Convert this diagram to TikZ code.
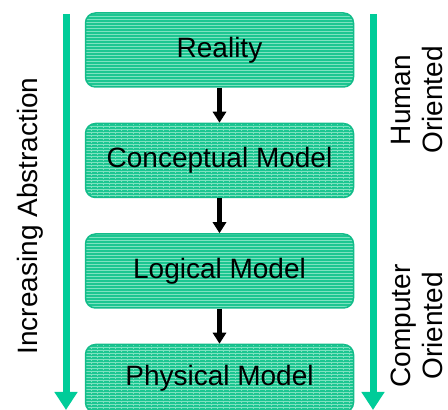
\documentclass[tikz,border=0pt]{standalone}
\usepackage{fontspec}
\setmainfont{Liberation Sans}
\usepackage{tikz}
\usetikzlibrary{positioning,arrows.meta}
\usepackage{xcolor}

\definecolor{sidegreen}{RGB}{0,204,153}
\definecolor{boxfill}{RGB}{28,198,145}
\definecolor{boxedge}{RGB}{20,188,138}
\definecolor{gridlight}{RGB}{125,226,192}

\tikzset{
  modelbox/.style={draw=boxedge,line width=1.5pt,fill=boxfill,rounded corners=10pt,
    minimum width=268pt,minimum height=74pt,font=\fontsize{28}{32}\selectfont,
    path picture={
      % fine hatching on the box face
      \foreach \k in {0,...,30}
        \draw[gridlight,line width=0.7pt] ([yshift=-3*\k pt]path picture bounding box.north west) -- ++(300pt,0);
      \foreach \k in {0,...,50}
        \draw[gridlight,line width=0.8pt,dash pattern=on 1.5pt off 1.5pt]
          ([xshift=6*\k pt]path picture bounding box.north west) -- ++(0,-90pt);
    }},
  sidetext/.style={rotate=90,align=center,font=\fontsize{28}{32}\selectfont},
  step arrow/.style={line width=4.5pt,-{Triangle[width=13pt,length=11pt]}},
}

\begin{document}
\begin{tikzpicture}[x=1pt,y=1pt,node distance=35pt]
\useasboundingbox (0,0) rectangle (448,410);

\node[modelbox] (real) at (219.5,360) {Reality};
\node[modelbox] (conc) [below=of real] {Conceptual Model};
\node[modelbox] (logi) [below=of conc] {Logical Model};
\node[modelbox,minimum height=68pt] (phys) [below=of logi] {Physical Model};

\draw[step arrow] (real) -- (conc);
\draw[step arrow] (conc) -- (logi);
\draw[step arrow] (logi) -- (phys);

% side scales
\coordinate (ltop) at (66,396);
\coordinate (lbot) at (66,0);
\coordinate (rtop) at (373,396);
\coordinate (rbot) at (373,0);
\draw[sidegreen,line width=7pt,-{Triangle[width=22pt,length=18pt]}] (ltop) -- (lbot);
\draw[sidegreen,line width=7pt,-{Triangle[width=22pt,length=18pt]}] (rtop) -- (rbot);

\node[sidetext] (abst) at (30,194) {Increasing Abstraction};
\node[sidetext] (human) at (417,310) {Human\\Oriented};
\node[sidetext] (comp) at (417,84) {Computer\\Oriented};
\end{tikzpicture}
\end{document}
